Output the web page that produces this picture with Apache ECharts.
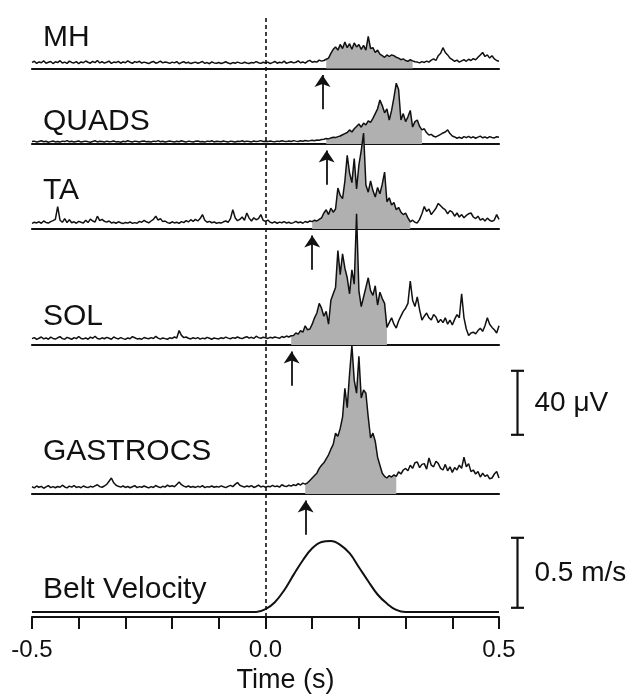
<!DOCTYPE html>
<html><head><meta charset="utf-8">
<script src="https://cdn.jsdelivr.net/npm/echarts@6/dist/echarts.min.js"></script>
<style>html,body{margin:0;padding:0;background:#fff}#c{width:634px;height:699px}</style>
</head><body><div id="c"></div>
<script>
// ---- sampling ----
const T0 = -0.5, DT = 0.005;   // EMG samples every 5 ms from -0.5 s

// ---- names ----
const muscles = ['MH', 'QUADS', 'TA', 'SOL', 'GASTROCS'];
const beltName = 'Belt Velocity';

// ---- EMG envelopes (µV), 201 samples each ----
const mh = [
3.8,4.5,3.2,4.1,3.6,4.8,3.3,3.9,4.4,3.1,
4.2,3.7,4.9,3.4,4.0,3.2,4.6,3.8,3.5,4.3,
3.0,4.1,3.6,4.7,3.9,3.3,4.4,3.7,5.0,3.5,
4.2,3.4,3.9,4.6,3.2,4.0,3.7,4.5,3.3,4.1,
3.6,4.8,3.9,3.2,4.3,3.8,4.5,3.4,4.0,3.6,
3.1,3.9,4.4,3.3,3.8,4.6,3.5,4.1,3.7,3.2,
4.0,3.5,4.3,3.0,3.7,4.2,3.4,3.9,3.1,3.6,
4.0,3.3,3.8,4.4,3.2,3.7,3.0,4.1,3.5,3.3,
3.8,3.1,3.6,4.2,3.4,3.0,3.7,3.3,4.0,3.5,
3.2,3.9,3.4,3.1,3.8,3.5,4.3,3.6,3.2,3.9,
3.4,4.0,3.1,3.7,4.4,3.3,3.9,3.5,4.6,3.2,
3.8,4.2,3.5,3.9,4.8,3.6,4.1,3.4,4.5,5.1,
3.9,4.4,4.0,5.2,4.6,
5.0,5.8,6.5,9.5,12.0,13.5,11.5,15.0,12.5,16.5,
13.0,15.5,12.0,16.0,13.5,15.0,12.0,14.5,11.5,20.0,
12.5,13.0,10.0,11.5,9.0,8.0,7.0,8.5,7.5,8.5,
8.0,7.0,6.5,5.5,6.0,5.0,4.5,5.5,4.8,4.2,
4.0,3.5,4.3,3.8,4.6,4.0,5.2,6.0,5.0,8.0,
9.5,13.0,10.0,8.5,6.5,5.5,4.5,5.2,4.0,4.8,
5.5,4.5,5.8,5.0,6.2,5.4,7.0,8.5,10.0,7.5,
8.5,6.5,8.0,6.0,5.0,4.5
];
const quads = [
1.5,1.8,1.2,1.6,2.0,1.4,1.7,1.1,1.5,1.9,
1.3,1.6,1.2,1.8,1.5,2.1,1.4,1.7,1.3,1.6,
1.9,1.2,1.5,1.8,1.4,1.1,1.6,2.0,1.3,1.7,
1.5,1.2,1.8,1.4,1.6,1.9,1.3,1.5,1.1,1.7,
1.4,2.0,1.6,1.3,1.8,1.5,1.2,1.7,1.9,1.4,
1.6,1.3,1.8,1.5,2.1,1.4,1.7,1.2,1.6,1.9,
1.5,1.3,1.7,1.4,2.0,1.6,1.2,1.8,1.5,1.3,
1.7,1.9,1.4,1.6,1.2,1.8,1.5,2.0,1.3,1.7,
1.6,1.4,1.9,1.5,1.2,1.8,1.6,1.3,1.7,1.5,
2.0,1.4,1.8,1.6,1.3,1.9,1.5,1.7,2.1,1.6,
1.7,1.5,1.9,1.6,1.4,1.8,1.6,2.0,1.7,1.5,
1.9,1.6,2.1,1.8,1.6,2.0,1.7,2.2,1.9,2.1,
2.4,2.0,2.5,2.3,2.8,
3.0,3.4,3.2,3.8,4.2,4.0,4.6,5.0,5.8,6.5,
7.2,8.8,7.5,9.5,11.0,12.5,10.5,13.0,12.0,14.5,
13.5,16.0,19.0,22.0,27.5,24.0,19.5,22.0,15.0,21.0,
29.0,38.0,34.0,15.0,19.0,14.0,17.0,21.0,10.6,14.0,
15.0,11.0,8.8,9.5,7.0,5.6,6.0,4.8,4.4,5.2,
6.0,6.9,7.5,8.8,6.5,5.0,4.4,3.6,4.2,3.5,
4.6,4.0,4.8,3.8,4.5,3.6,4.3,4.9,3.9,4.4,
3.7,4.6,4.1,3.8,4.5,4.2
];
const ta = [
3.5,4.2,3.8,4.5,3.6,5.0,4.1,3.7,4.6,5.2,
6.0,14.0,5.5,4.2,6.5,4.0,5.8,3.9,4.5,3.6,
4.8,4.2,3.7,5.5,4.0,6.2,5.0,4.4,8.0,5.2,
6.0,4.8,4.3,5.0,3.8,4.2,3.6,4.5,3.9,3.4,
4.1,3.7,4.4,3.5,4.0,3.6,4.8,4.2,5.4,4.5,
3.8,5.0,6.0,8.0,5.5,6.5,4.6,5.0,4.0,3.6,
4.5,3.8,4.2,3.5,4.6,4.0,5.2,4.4,5.8,4.8,
6.0,5.0,6.5,9.0,5.5,4.2,4.8,3.9,4.4,3.6,
4.0,3.7,4.5,5.0,4.2,6.5,12.0,7.0,5.2,6.0,
7.5,5.5,10.0,6.8,5.0,7.0,5.8,6.5,9.0,5.5,
4.8,5.6,4.2,3.8,4.5,3.6,4.3,3.9,4.6,3.7,
4.2,3.5,4.0,4.8,3.9,4.4,3.6,4.7,4.1,5.0,
4.6,5.5,5.0,6.0,7.0,
10.0,12.0,9.0,13.0,10.5,12.5,25.6,21.0,19.0,30.0,
46.0,35.0,29.0,44.0,25.0,40.0,49.0,60.0,27.5,23.0,
30.0,24.0,20.0,26.0,22.0,28.0,35.6,17.0,19.5,15.0,
16.5,12.0,13.5,10.5,9.0,10.0,7.0,4.4,5.5,4.2,
3.8,6.0,9.5,14.0,11.0,12.5,9.0,11.0,13.0,16.0,
14.5,13.0,12.0,9.5,11.5,10.6,8.0,10.0,7.5,9.0,
7.0,8.5,9.5,10.0,7.5,6.5,8.0,5.6,6.5,5.0,
6.8,5.5,4.8,5.6,9.0,6.0
];
const sol = [
4.0,4.6,3.5,4.2,5.0,3.8,4.4,3.6,4.9,4.1,
3.7,4.5,5.2,4.0,3.6,4.8,4.2,3.5,4.6,4.0,
5.3,4.1,3.8,4.4,3.6,4.9,4.2,5.5,4.0,3.7,
4.5,3.9,4.8,4.2,3.6,5.0,4.3,3.8,4.6,4.0,
3.5,4.4,3.9,5.2,4.5,3.8,4.1,3.6,4.7,4.2,
3.9,4.6,4.1,5.4,4.3,3.7,4.4,4.0,3.6,4.5,
4.1,5.0,4.4,9.0,6.0,4.6,5.0,4.2,3.8,4.5,
4.0,4.6,3.7,4.3,3.9,4.8,4.2,3.6,4.4,4.0,
3.8,4.5,4.1,4.9,4.3,3.9,4.6,4.2,5.0,4.4,
4.0,4.7,5.2,4.3,4.8,4.1,5.5,4.6,4.2,4.9,
4.5,4.1,4.8,4.4,5.0,4.6,4.2,5.3,4.7,5.6,
5.0,5.8,6.0,7.5,6.8,9.0,8.0,12.0,9.5,10.0,
13.0,17.0,20.0,26.0,23.0,
18.0,21.0,13.0,28.0,32.0,36.0,59.0,44.0,57.0,48.0,
42.0,32.0,47.0,38.0,82.0,34.0,24.0,30.0,36.0,42.0,
34.0,31.0,37.0,25.0,33.0,29.0,26.0,11.0,14.0,17.0,
13.0,10.6,15.0,18.0,21.0,23.0,26.0,40.0,28.0,24.0,
30.0,22.0,15.6,18.0,20.0,17.0,15.6,19.0,17.5,14.0,
16.0,14.0,17.0,13.0,15.6,12.5,16.0,19.0,17.0,32.0,
17.0,10.0,6.0,7.5,8.0,7.0,9.0,10.5,8.5,12.0,
17.0,13.0,11.0,9.5,7.5,12.0
];
const gastrocs = [
4.5,3.8,5.0,4.2,4.8,3.6,4.4,5.2,4.0,4.6,
3.9,4.7,4.2,5.5,4.4,3.8,4.9,4.3,5.3,4.1,
4.6,3.9,5.0,4.4,4.0,4.8,4.3,5.1,5.8,4.6,
4.2,5.0,6.0,8.0,10.0,7.0,5.5,4.8,4.3,5.0,
4.1,4.7,3.9,4.5,5.2,4.0,4.6,4.2,5.0,4.4,
3.8,4.6,4.1,5.3,4.5,4.0,4.8,4.3,5.5,4.7,
5.2,4.5,6.0,7.5,5.8,4.9,4.4,5.0,4.2,4.7,
4.1,4.8,4.3,5.2,4.0,4.6,4.4,5.0,4.2,4.7,
4.3,5.1,4.5,4.0,4.8,5.4,4.6,6.0,7.2,5.5,
4.8,4.3,5.0,4.5,5.2,4.1,4.7,5.5,4.4,4.9,
4.2,4.8,4.5,5.4,4.6,5.0,4.3,5.8,5.0,4.6,
5.5,4.9,5.8,5.2,6.5,5.6,6.8,6.2,7.0,8.5,
10.0,11.5,13.0,16.0,18.0,
19.5,22.0,24.5,28.0,31.0,38.0,36.0,41.0,48.0,66.0,
54.0,75.0,93.0,71.0,63.0,86.0,60.0,65.0,63.0,48.0,
35.0,38.0,33.0,23.0,18.0,13.0,11.0,10.0,11.5,10.6,
12.0,11.0,13.8,12.5,15.0,16.0,14.5,18.0,16.0,19.5,
20.0,16.5,18.5,19.0,15.5,22.5,18.0,17.0,20.5,19.0,
16.0,15.0,18.5,14.5,17.0,13.5,16.5,15.0,18.0,16.0,
23.0,17.0,19.0,14.0,15.0,12.5,14.0,10.6,13.0,11.0,
12.0,9.5,10.0,12.5,14.0,10.0
];
const emg = [mh, quads, ta, sol, gastrocs];

// onset (arrow) times and shaded burst windows, s
const onsetTimes = [0.122, 0.131, 0.100, 0.056, 0.086];
const fillStart  = [0.128, 0.130, 0.100, 0.055, 0.085];
const fillEnd    = [0.318, 0.335, 0.310, 0.260, 0.280];

// ---- belt velocity (m/s) ----
const beltTimes    = [-0.5, -0.02, 0.0, 0.02, 0.04, 0.06, 0.08, 0.10, 0.12, 0.14, 0.16, 0.18, 0.20, 0.22, 0.24, 0.26, 0.28, 0.30, 0.5];
const beltVelocity = [0, 0, 0.02, 0.07, 0.155, 0.265, 0.37, 0.455, 0.5, 0.507, 0.48, 0.42, 0.32, 0.22, 0.125, 0.06, 0.015, 0, 0];

// ---- axis ----
const xMin = -0.5, xMax = 0.5, xTickStep = 0.1;
const xTickLabels = ['-0.5', '0.0', '0.5'];
const xAxisName = 'Time (s)';

// ---- scale bars ----
const emgScale = { value: 40, label: '40 μV' };
const beltScale = { value: 0.5, label: '0.5 m/s' };

// ================= layout =================
const FONT = '"Liberation Sans", Arial, Helvetica, sans-serif';
const INK = '#111';
const LEFT = 32, RIGHT = 135;
const PX_PER_UV = 1.6;
const baselines = [68.5, 144, 229, 345, 494];
const yMaxes = [40, 60, 80, 100, 100];
const Y_MIN = -30;
const BELT_BASE = 612, PX_PER_MS = 140, BELT_MAX = 0.6;
const labelY = [40, 124, 193, 319, 454, 592];

const chart = echarts.init(document.getElementById('c'), null, { renderer: 'canvas' });

const grids = [], xAxes = [], yAxes = [], series = [];
muscles.forEach((name, k) => {
  const top = baselines[k] - yMaxes[k] * PX_PER_UV;
  grids.push({ left: LEFT, right: RIGHT, top: top, height: (yMaxes[k] - Y_MIN) * PX_PER_UV });
  xAxes.push({ type: 'value', gridIndex: k, min: xMin, max: xMax,
    axisLine: { show: true, onZero: true, lineStyle: { color: INK, width: 2.2 } },
    axisTick: { show: false }, axisLabel: { show: false }, splitLine: { show: false } });
  yAxes.push({ type: 'value', gridIndex: k, min: Y_MIN, max: yMaxes[k], show: false, splitLine: { show: false } });
  const pts = emg[k].map((v, i) => [T0 + i * DT, v]);
  const fillPts = pts.filter(p => p[0] >= fillStart[k] - 1e-9 && p[0] <= fillEnd[k] + 1e-9);
  series.push({
    type: 'line', name: name + ' burst', xAxisIndex: k, yAxisIndex: k, data: fillPts,
    symbol: 'none', lineStyle: { width: 0, opacity: 0 }, areaStyle: { color: '#b0b0b0', opacity: 1, origin: 0 },
    z: 1, silent: true
  });
  series.push({
    type: 'line', name: name, xAxisIndex: k, yAxisIndex: k, data: pts,
    symbol: 'none', lineStyle: { color: INK, width: 1.5 }, z: 3, silent: true,
    markLine: {
      silent: true, symbol: ['none', 'arrow'], symbolSize: 12, label: { show: false },
      lineStyle: { color: INK, width: 1.8, type: 'solid' },
      data: [[{ coord: [onsetTimes[k], -25.5] }, { coord: [onsetTimes[k], -4] }]]
    }
  });
});

// belt grid (index 5)
grids.push({ left: LEFT, right: RIGHT, top: BELT_BASE - BELT_MAX * PX_PER_MS, height: BELT_MAX * PX_PER_MS });
xAxes.push({ type: 'value', gridIndex: 5, min: xMin, max: xMax, show: false });
yAxes.push({ type: 'value', gridIndex: 5, min: 0, max: BELT_MAX, show: false });
series.push({
  type: 'line', name: beltName, xAxisIndex: 5, yAxisIndex: 5, smooth: 0.4, symbol: 'none',
  data: beltTimes.map((t, i) => [t, beltVelocity[i]]),
  lineStyle: { color: INK, width: 2 }, z: 3, silent: true
});

// overlay grid (index 6): time axis and dashed line at t = 0
grids.push({ left: LEFT, right: RIGHT, top: 15, bottom: 699 - 618 });
xAxes.push({
  type: 'value', gridIndex: 6, min: xMin, max: xMax, interval: xTickStep,
  axisLine: { show: true, onZero: false, lineStyle: { color: INK, width: 2.2 } },
  axisTick: { show: true, length: 12, inside: false, lineStyle: { color: INK, width: 2 } },
  axisLabel: {
    color: INK, fontSize: 24, fontFamily: FONT, margin: 21, showMinLabel: true, showMaxLabel: true,
    formatter: v => { const s = Math.abs(v) < 1e-9 ? '0.0' : v.toFixed(1); return xTickLabels.includes(s) ? s : ''; }
  },
  splitLine: { show: false },
  name: xAxisName, nameLocation: 'middle', nameGap: 50,
  nameTextStyle: { color: INK, fontSize: 27, fontFamily: FONT, padding: [0, 0, 0, 40] }
});
yAxes.push({ type: 'value', gridIndex: 6, min: 0, max: 1, show: false });
series.push({
  type: 'line', name: 'perturbation', xAxisIndex: 6, yAxisIndex: 6, data: [], symbol: 'none',
  markLine: {
    silent: true, symbol: ['none', 'none'], label: { show: false },
    lineStyle: { color: INK, width: 1.6, type: [4, 3] },
    data: [{ xAxis: 0 }]
  }
});

chart.setOption({
  animation: false,
  backgroundColor: '#fff',
  textStyle: { fontFamily: FONT },
  grid: grids, xAxis: xAxes, yAxis: yAxes, series: series
});

// ---- texts and scale bars placed via the axes ----
const graphics = [];
muscles.concat([beltName]).forEach((name, k) => {
  graphics.push({ type: 'text', left: 43, top: labelY[k] - 17,
    style: { text: name, fill: INK, font: '30px ' + FONT } });
});
function scaleBar(gridIndex, from, to, label) {
  const a = chart.convertToPixel({ gridIndex: gridIndex }, [0.538, from]);
  const b = chart.convertToPixel({ gridIndex: gridIndex }, [0.538, to]);
  const x = Math.round(a[0]) + 0.5;
  const ls = { stroke: INK, lineWidth: 2.2 };
  graphics.push({ type: 'line', shape: { x1: x, y1: a[1], x2: x, y2: b[1] }, style: ls });
  graphics.push({ type: 'line', shape: { x1: x - 6.5, y1: a[1], x2: x + 6.5, y2: a[1] }, style: ls });
  graphics.push({ type: 'line', shape: { x1: x - 6.5, y1: b[1], x2: x + 6.5, y2: b[1] }, style: ls });
  graphics.push({ type: 'text', x: x + 17, y: (a[1] + b[1]) / 2,
    style: { text: label, fill: INK, font: '28px ' + FONT, verticalAlign: 'middle', align: 'left' } });
}
scaleBar(4, 37, 37 + emgScale.value, emgScale.label);
scaleBar(5, 0.03, 0.03 + beltScale.value, beltScale.label);
chart.setOption({ graphic: graphics });
</script></body></html>
